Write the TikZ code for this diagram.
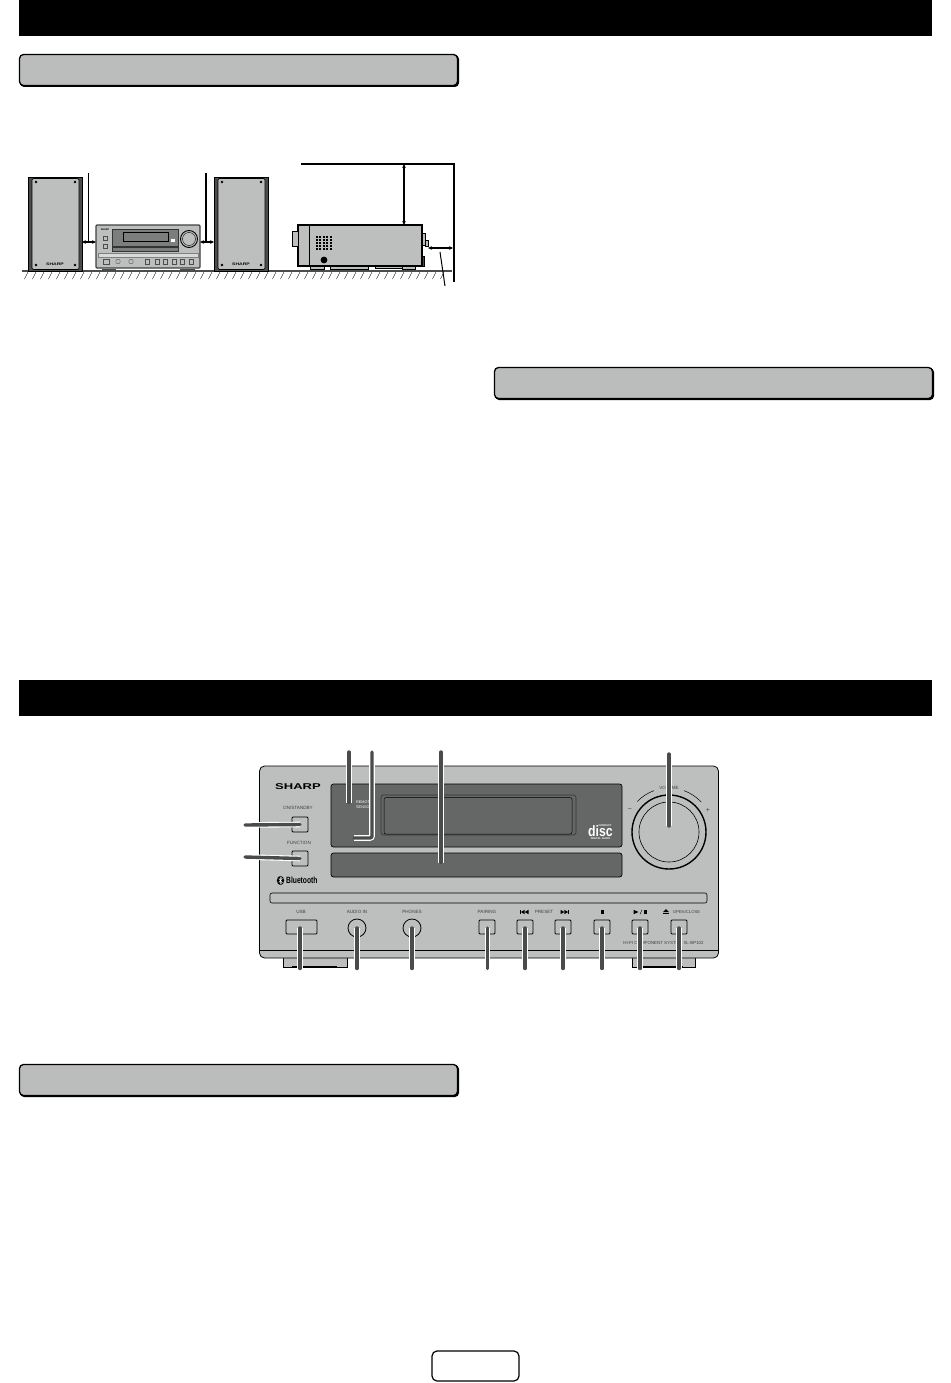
\documentclass[tikz,border=0pt]{standalone}
\usepackage{fontspec}
\usepackage{graphicx}
\setmainfont{Liberation Sans}
\definecolor{bodygrey}{HTML}{BDBEBE}
\definecolor{panelgrey}{HTML}{656766}
\definecolor{leadgrey}{HTML}{4A4B4B}
\definecolor{headgrey}{HTML}{BBBCBC}
\definecolor{unitgrey}{HTML}{7C7E7D}
\tikzset{
    box/.style={draw=black, rectangle, inner sep=0pt, outer sep=0pt},
    titlebar/.style={rectangle, inner sep=0pt, fill=black, minimum width=913pt, minimum height=36pt},
    headbox/.style={box, fill=headgrey, line width=1.3pt, rounded corners=4pt, minimum width=438pt, minimum height=31pt},
    headshade/.style={fill=black, rounded corners=4pt},
    keybox/.style={box, fill=bodygrey, line width=0.8pt, rounded corners=1pt, minimum width=16pt, minimum height=15pt},
    jackbox/.style={draw=black, circle, fill=bodygrey, line width=0.8pt, inner sep=0pt, outer sep=0pt, minimum size=18pt},
    panelbox/.style={box, fill=panelgrey, line width=0.7pt, rounded corners=2.5pt},
    leader/.style={draw=leadgrey, line width=3.4pt, line cap=round, line join=round,
        preaction={draw=white, line width=5.6pt}},
    panellabel/.style={font=\fontsize{4.6}{5}\selectfont, text=black!75, inner sep=0pt},
    clearance/.style={draw=black, line width=1.1pt, <->, >={Stealth[length=4pt,width=3.6pt]}},
    wall/.style={draw=black, line width=1.7pt},
    tinykey/.style={draw=black!70, fill=bodygrey, line width=0.35pt}
}
\usetikzlibrary{arrows.meta}
\begin{document}
\begin{tikzpicture}[x=1pt, y=-1pt]
\useasboundingbox (0,0) rectangle (950,1383);

% bars and headings
\node[titlebar, anchor=north west] (topbar) at (19,0) {};
\node[titlebar, minimum height=35.5pt, anchor=north west] (midbar) at (19,680) {};
\fill[headshade] (20,55) rectangle (459,87);
\fill[headshade] (495,368) rectangle (934,400);
\fill[headshade] (20,1065) rectangle (459,1097);
\node[headbox, anchor=north west] (headleft) at (19.5,54.5) {};
\node[headbox, anchor=north west] (headright) at (494.5,367.5) {};
\node[headbox, anchor=north west] (headlow) at (19.5,1064.5) {};
\node[box, line width=1.2pt, rounded corners=5pt, fill=white, minimum width=87pt, minimum height=30pt, anchor=north west] (pagebox) at (432,1351) {};

% floor
\draw[line width=1.3pt, black!70] (22,271) -- (452,271);
\foreach \hx in {28,36,...,450}
    \draw[line width=0.4pt] (\hx,272) -- (\hx-3.5,279);

% speakers
\foreach \sx/\sname in {28/spkleft,214/spkright} {
    \node[box, fill=leadgrey, line width=0.8pt, minimum width=54pt, minimum height=94pt, anchor=north west] (\sname) at (\sx,177) {};
    \fill[bodygrey, draw=black, line width=0.6pt, rounded corners=1.5pt] (\sx+4,178.5) rectangle (\sx+51,269.5);
    \foreach \px/\py in {8/182,47/182,8/265,47/265}
        \fill (\sx+\px,\py) circle (1.3pt);
    \node[font=\bfseries\fontsize{3.6}{4}\selectfont, inner sep=0pt] at (\sx+27,264.5) {\scalebox{1.4}[1]{SHARP}};
}

% small front view
\fill[leadgrey] (102,268.5) rectangle (116,271);
\fill[leadgrey] (180,268.5) rectangle (195,271);
\node[box, fill=bodygrey, draw=black!75, line width=1.2pt, rounded corners=1pt, minimum width=104pt, minimum height=43pt, anchor=north west] (unit) at (96,225) {};
\fill[unitgrey, draw=black!80, line width=0.4pt] (112,229) rectangle (178,246);
\fill[unitgrey, draw=black!80, line width=0.4pt] (112,247) rectangle (178,251);
\draw[fill=unitgrey, draw=black, line width=0.5pt] (123,232) rectangle (168,241);
\draw[fill=white, draw=black!50, line width=0.2pt] (170.5,238) rectangle (175.5,242);
\draw[fill=bodygrey, line width=0.9pt] (189,239) circle (8.5pt);
\draw[line width=0.4pt] (189,239) circle (6.5pt);
\draw[fill=black!15, draw=black!50, line width=0.3pt] (98,253) rectangle (198,257);
\foreach \kx in {147,157,165,174,182,191}
    \draw[tinykey] (\kx-1.8,259) rectangle (\kx+1.8,264);
\draw[tinykey] (103,259.5) rectangle (109,264);
\draw[tinykey] (118,261.5) circle (2.3pt);
\draw[tinykey] (131,261.5) circle (2.3pt);
\draw[tinykey] (103,236) rectangle (107,240);
\draw[tinykey] (103,244) rectangle (107,248);
\node[font=\bfseries\fontsize{2.4}{3}\selectfont, inner sep=0pt] at (105,230) {SHARP};

% clearances front
\coordinate (gapa) at (88.5,173);
\coordinate (gapb) at (88.5,242);
\coordinate (gapc) at (206,173);
\coordinate (gapd) at (206,242);
\draw[line width=1.2pt] (gapa) -- (gapb);
\draw[line width=1.2pt] (gapc) -- (gapd);
\draw[clearance] (spkleft.east |- gapb) -- (unit.west |- gapb);
\draw[clearance] (unit.east |- gapd) -- (spkright.west |- gapd);

% side view
\draw[fill=bodygrey, line width=0.5pt] (310,265) rectangle (324,269.5);
\draw[fill=bodygrey, line width=0.5pt] (330,265) rectangle (368,269);
\draw[fill=bodygrey, line width=0.5pt] (375,265) rectangle (402,268.5);
\draw[fill=bodygrey, line width=0.5pt] (402,265) rectangle (415,269.5);
\node[box, fill=bodygrey, line width=1.3pt, minimum width=124pt, minimum height=41pt, anchor=north west] (sideunit) at (298,225) {};
\draw[line width=0.5pt] (309,225) -- (309,266);
\draw[fill=bodygrey, line width=0.6pt] (292,231) rectangle (298,246);
\foreach \gx in {315.5,319,...,331}
    \foreach \gy in {235.5,238.5,...,250}
        \fill (\gx,\gy) rectangle (\gx+2.4,\gy+2.2);
\fill (324,260) circle (3.4pt);
\draw[fill=bodygrey, line width=0.7pt] (422,233) rectangle (425,245);
\draw[fill=bodygrey, line width=0.7pt] (425,240) rectangle (428,246);
\draw[fill=leadgrey, line width=0.6pt] (422,256) rectangle (424.5,266);

\coordinate (wallstart) at (301,164);
\coordinate (wallcorner) at (454,164);
\coordinate (wallend) at (454,282);
\coordinate (overhead) at (404,164);
\coordinate (rearend) at (428,248);
\coordinate (rearwall) at (453,248);
\coordinate (notea) at (440,252);
\coordinate (noteb) at (445,286);
\draw[wall] (wallstart) -- (wallcorner) -- (wallend);
\draw[clearance] (overhead) -- (overhead |- sideunit.north);
\draw[clearance] (rearend) -- (rearwall);
\draw[line width=1pt] (notea) -- (noteb);

% main front panel
\draw[fill=bodygrey, line width=0.8pt] (283,952) -- (283,967) -- (347,967) -- (347,952);
\draw[fill=bodygrey, line width=0.8pt] (632,952) -- (632,967) -- (695,967) -- (695,952);
\draw[line width=1.8pt] (292,967) -- (337,967);
\draw[line width=1.8pt] (643,967) -- (683,967);
\node[box, fill=bodygrey, line width=0.8pt, rounded corners=5pt, minimum width=459pt, minimum height=192pt, anchor=north west] (front) at (259.5,766) {};
\draw[line width=0.6pt] (259.5,950) -- (718.5,950);

\node[panelbox, minimum width=291pt, minimum height=63pt, anchor=north west] (display) at (331,784) {};
\node[panelbox, minimum width=291pt, minimum height=24pt, anchor=north west] (tray) at (331,853) {};
\node[box, fill=panelgrey, draw=black!80, line width=0.6pt, rounded corners=2.5pt, minimum width=195pt, minimum height=40pt, anchor=north west] (window) at (381,795) {};
\draw[draw=black, line width=0.5pt, rounded corners=2pt] (384,797.5) rectangle (572,834);
\node[box, fill=bodygrey, line width=0.6pt, rounded corners=2pt, minimum width=437pt, minimum height=10pt, anchor=north west] (slot) at (270,893) {};

\node[keybox, anchor=north west] (standby) at (292,817) {};
\node[keybox, anchor=north west] (function) at (292,851) {};
\node[keybox, minimum width=31pt, minimum height=14pt, anchor=north west] (usb) at (286,920) {};
\node[jackbox] (audioin) at (357,928) {};
\node[jackbox] (phones) at (412,928) {};
\foreach \kname/\kx in {pairing/479,prevkey/517,nextkey/555,stopkey/594,playkey/632,openkey/671}
    \node[keybox, minimum height=14pt, anchor=north west] (\kname) at (\kx,920) {};

% volume
\node[draw=black, circle, fill=bodygrey, line width=1.4pt, minimum size=74pt, inner sep=0pt] (volume) at (669,832) {};
\draw[line width=0.6pt] (volume.center) circle (30pt);
\draw[line width=0.5pt] (669,832) ++(136:44pt) arc[start angle=136, end angle=110, radius=44pt];
\draw[line width=0.5pt] (669,832) ++(70:44pt) arc[start angle=70, end angle=43, radius=44pt];

% panel labels
\node[font=\bfseries\fontsize{8.4}{9}\selectfont, inner sep=0pt] (brand) at (298,787) {\scalebox{1.55}[1]{SHARP}};
\node[panellabel] (labstandby) at (298,808) {ON/STANDBY};
\node[panellabel] (labfunction) at (299,843) {FUNCTION};
\node[panellabel] (labusb) at (301,912) {USB};
\node[panellabel] (labaudio) at (357,912) {AUDIO IN};
\node[panellabel] (labphones) at (412,912) {PHONES};
\node[panellabel] (labpairing) at (487,912) {PAIRING};
\node[panellabel] (labpreset) at (544,912) {PRESET};
\node[panellabel, font=\fontsize{4.2}{5}\selectfont] (labopen) at (686.5,912) {OPEN/CLOSE};
\node[panellabel, font=\fontsize{4.4}{5}\selectfont] (labmodel) at (663.5,942.5) {HI-FI COMPONENT SYSTEM XL-BP102};
\node[panellabel] (labvolume) at (669,788) {VOLUME};
\node[panellabel, font=\fontsize{7}{7}\selectfont] (labminus) at (630,810.5) {−};
\node[panellabel, font=\fontsize{7}{7}\selectfont] (labplus) at (708,810.5) {+};
\node[panellabel, text=white, align=left, anchor=west, font=\fontsize{3.8}{4.6}\selectfont] (labsensor) at (356,804.5) {REMOTE\\SENSOR};
\node[text=black, font=\bfseries\fontsize{8.6}{9}\selectfont, inner sep=0pt, anchor=west] (labblue) at (286,880.5) {\scalebox{0.78}[1.05]{Bluetooth}};
\fill (280.5,880.5) ellipse (3.6pt and 4.6pt);
\draw[white, line width=0.5pt] (278.8,878.5) -- (282.2,882.5) -- (280.5,884) -- (280.5,877) -- (282.2,878.5) -- (278.8,882.5);

% compact disc mark
\node[font=\bfseries\fontsize{2.6}{3}\selectfont, text=white, inner sep=0pt] (cdtop) at (605,825.5) {COMPACT};
\node[font=\bfseries\fontsize{15}{15}\selectfont, text=white, inner sep=0pt] (cdmid) at (600.5,831) {\scalebox{0.82}[1]{disc}};
\node[font=\bfseries\fontsize{2.6}{3}\selectfont, text=white, inner sep=0pt] (cdlow) at (600.5,839) {DIGITAL AUDIO};

% key symbols
\foreach \sx/\sd in {524.5/-1,564.5/1} {
    \fill (\sx-\sd*4,909.8) -- (\sx-\sd*0.2,912) -- (\sx-\sd*4,914.2) -- cycle;
    \fill (\sx-\sd*0.2,909.8) -- (\sx+\sd*3.6,912) -- (\sx-\sd*0.2,914.2) -- cycle;
    \fill (\sx+\sd*3.6,909.8) rectangle (\sx+\sd*4.6,914.2);
}
\fill (600.5,910) rectangle (603.5,913.6);
\fill (633.5,909.8) -- (638.5,912) -- (633.5,914.2) -- cycle;
\draw[line width=0.4pt] (640,914.4) -- (642,909.6);
\fill (643.5,910) rectangle (647,913.8);
\fill (663,912) -- (666,909) -- (669,912) -- cycle;
\fill (663,913) rectangle (669,914.2);

% leaders
\coordinate (topa) at (349,752);
\coordinate (topb) at (372,752);
\coordinate (topc) at (441,752);
\coordinate (topd) at (669,754);
\coordinate (enda) at (349,802.5);
\coordinate (endb) at (354,838);
\coordinate (bendb) at (372,838);
\coordinate (endc) at (441,862.5);
\coordinate (endd) at (669,826);
\coordinate (lefta) at (245,825);
\coordinate (leftb) at (245,857);
\draw[leader] (topa) -- (enda);
\draw[leader, rounded corners=2pt] (topb) -- (bendb) -- (endb);
\draw[leader] (topc) -- (endc);
\draw[leader] (topd) -- (endd);
\draw[leader] (lefta) -- (standby.center);
\draw[leader] (leftb) -- (function.center);
\foreach \lname/\lx in {usb/300,audioin/357,phones/412,pairing/487.5,prevkey/525,nextkey/563,stopkey/602,playkey/640,openkey/679} {
    \coordinate (low\lname) at (\lx,968.5);
    \draw[leader] (low\lname) -- (\lx,928);
}
\end{tikzpicture}
\end{document}
